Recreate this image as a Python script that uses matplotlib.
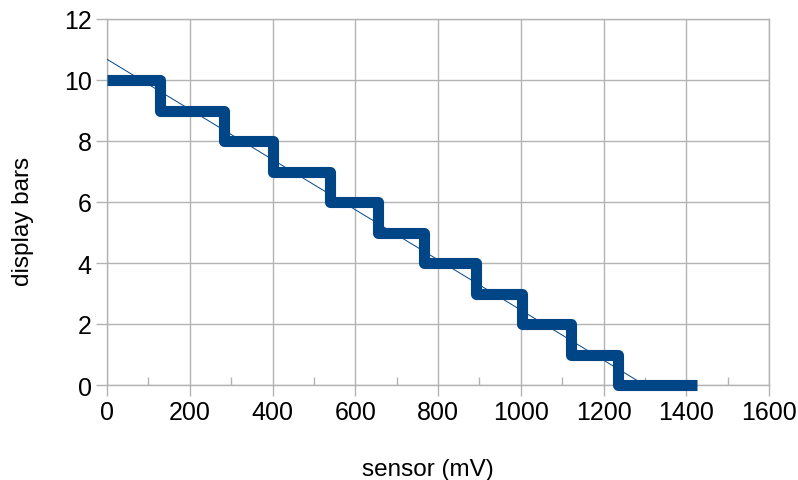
import matplotlib
matplotlib.use("Agg")
import matplotlib.pyplot as plt
import numpy as np

# Step data: display bars vs sensor (mV)
step_edges = [0, 128, 283, 400, 539, 656, 765, 892, 1003, 1121, 1235, 1425]
bars = [10, 9, 8, 7, 6, 5, 4, 3, 2, 1, 0]

# Linear trend line
trend_intercept = 10.68
trend_slope = -0.00822

x_ticks = [0, 200, 400, 600, 800, 1000, 1200, 1400, 1600]
y_ticks = [0, 2, 4, 6, 8, 10, 12]

plt.rcParams['font.family'] = ['Liberation Sans', 'DejaVu Sans']

fig = plt.figure(figsize=(7.98, 4.81), dpi=100)
ax = fig.add_axes([107/798, 1 - 386/481, (769-107)/798, (386-20)/481])

# build step path
xs, ys = [], []
for i, b in enumerate(bars):
    xs += [step_edges[i], step_edges[i+1]]
    ys += [b, b]
color = '#004586'
ax.plot(xs, ys, color=color, lw=8.0, solid_joinstyle='round', solid_capstyle='butt',
        zorder=3, clip_on=False)

x0 = 0
x1 = -trend_intercept / trend_slope
tx = np.array([x0, x1])
ax.plot(tx, trend_intercept + trend_slope * tx, color=color, lw=0.7, zorder=4)

ax.set_xlim(0, 1600)
ax.set_ylim(0, 12)
ax.set_xticks(x_ticks)
ax.set_yticks(y_ticks)
ax.set_xticks(np.arange(100, 1600, 200), minor=True)
ax.grid(True, color='#b3b3b3', lw=1.0, zorder=0)
for s in ax.spines.values():
    s.set_color('#b3b3b3')
    s.set_linewidth(1.0)
ax.tick_params(axis='both', which='major', length=8, width=1.0, color='#b3b3b3',
               labelsize=18, direction='out', pad=3)
ax.tick_params(axis='x', which='minor', length=6, width=1.0, color='#b3b3b3', direction='in')
ax.tick_params(axis='y', which='minor', left=False)
ax.set_axisbelow(True)

ax.set_xlabel('sensor (mV)', fontsize=17.5)
ax.set_ylabel('display bars', fontsize=17.5)
ax.xaxis.set_label_coords((428 - 107) / 662, -(459 - 386) / 366)
ax.yaxis.set_label_coords((34 - 107) / 662, (386 - 221) / 366)

fig.savefig('out.png', dpi=100)
